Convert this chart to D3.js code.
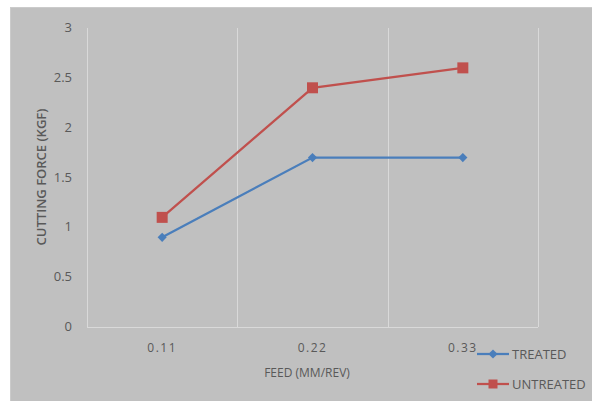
<!DOCTYPE html>
<html><head><meta charset="utf-8">
<script src="https://cdn.jsdelivr.net/npm/d3@7"></script>
<style>body{margin:0;background:#fff}svg{display:block;font-family:"Open Sans","Liberation Sans",sans-serif}</style>
</head><body>
<svg id="c" width="592" height="401"></svg>
<script>
const categories = ["0.11","0.22","0.33"];
const treated = [0.9, 1.7, 1.7];
const untreated = [1.1, 2.4, 2.6];
const yTicks = [0, 0.5, 1, 1.5, 2, 2.5, 3];
const seriesNames = ["TREATED","UNTREATED"];

const svg = d3.select("#c");
svg.append("rect").attr("x",10).attr("y",7).attr("width",582).attr("height",394).attr("fill","#c0c0c0");
svg.append("line").attr("x1",10.5).attr("x2",10.5).attr("y1",7).attr("y2",401).attr("stroke","#cbcbcb");
svg.append("line").attr("x1",10).attr("x2",592).attr("y1",7.5).attr("y2",7.5).attr("stroke","#cbcbcb");

const L=87, R=538, T=28, B=327;
const x = d3.scaleBand().domain(categories).range([L,R]);
const y = d3.scaleLinear().domain([0,3]).range([B,T]);

const bounds = categories.map(c=>x(c)).concat([R]);
svg.selectAll(".vg").data(bounds).enter().append("line")
  .attr("x1",d=>Math.round(d)+0.5).attr("x2",d=>Math.round(d)+0.5)
  .attr("y1",T).attr("y2",B).attr("stroke","#d9d9d9").attr("stroke-width",1);
svg.append("line").attr("x1",L).attr("x2",R).attr("y1",B+0.5).attr("y2",B+0.5).attr("stroke","#d9d9d9");

svg.selectAll(".yt").data(yTicks).enter().append("text")
  .attr("x",72).attr("y",d=>y(d)+4).attr("text-anchor","end")
  .attr("font-size",13).attr("fill","#595959").text(d=>d);

svg.selectAll(".xt").data(categories).enter().append("text")
  .attr("x",d=>x(d)+x.bandwidth()/2).attr("y",352).attr("text-anchor","middle")
  .attr("font-size",12).attr("letter-spacing","1.5px").attr("fill","#595959").text(d=>d);

svg.append("text").attr("transform","translate(46,177) rotate(-90)").attr("text-anchor","middle")
  .attr("font-size",13).attr("font-weight",600).attr("fill","#595959").text("CUTTING FORCE (KGF)");
svg.append("text").attr("x",307).attr("y",377).attr("text-anchor","middle")
  .attr("font-size",12).attr("fill","#595959").text("FEED (MM/REV)");

const cx = d=>x(d)+x.bandwidth()/2;
const line = d3.line().x((d,i)=>cx(categories[i])).y(d=>y(d));
const colors = ["#4a7ebb","#c0504d"];

svg.append("path").datum(untreated).attr("d",line).attr("fill","none").attr("stroke",colors[1]).attr("stroke-width",2.25);
svg.append("path").datum(treated).attr("d",line).attr("fill","none").attr("stroke",colors[0]).attr("stroke-width",2.25);

svg.selectAll(".tm").data(treated).enter().append("path")
  .attr("d",d3.symbol().type(d3.symbolSquare).size(42))
  .attr("transform",(d,i)=>`translate(${cx(categories[i])},${y(d)}) rotate(45)`)
  .attr("fill",colors[0]);
svg.selectAll(".um").data(untreated).enter().append("path")
  .attr("d",d3.symbol().type(d3.symbolSquare).size(121))
  .attr("transform",(d,i)=>`translate(${cx(categories[i])},${y(d)})`)
  .attr("fill",colors[1]);

const ly = [354, 384];
seriesNames.forEach((n,i)=>{
  svg.append("line").attr("x1",477).attr("x2",509).attr("y1",ly[i]).attr("y2",ly[i]).attr("stroke",colors[i]).attr("stroke-width",2.25);
  if(i===0){
    svg.append("path").attr("d",d3.symbol().type(d3.symbolSquare).size(42))
      .attr("transform",`translate(493,${ly[i]}) rotate(45)`).attr("fill",colors[i]);
  } else {
    svg.append("path").attr("d",d3.symbol().type(d3.symbolSquare).size(81))
      .attr("transform",`translate(493,${ly[i]})`).attr("fill",colors[i]);
  }
  svg.append("text").attr("x",512).attr("y",ly[i]+5).attr("font-size",13).attr("fill","#595959").text(n);
});
</script>
</body></html>
